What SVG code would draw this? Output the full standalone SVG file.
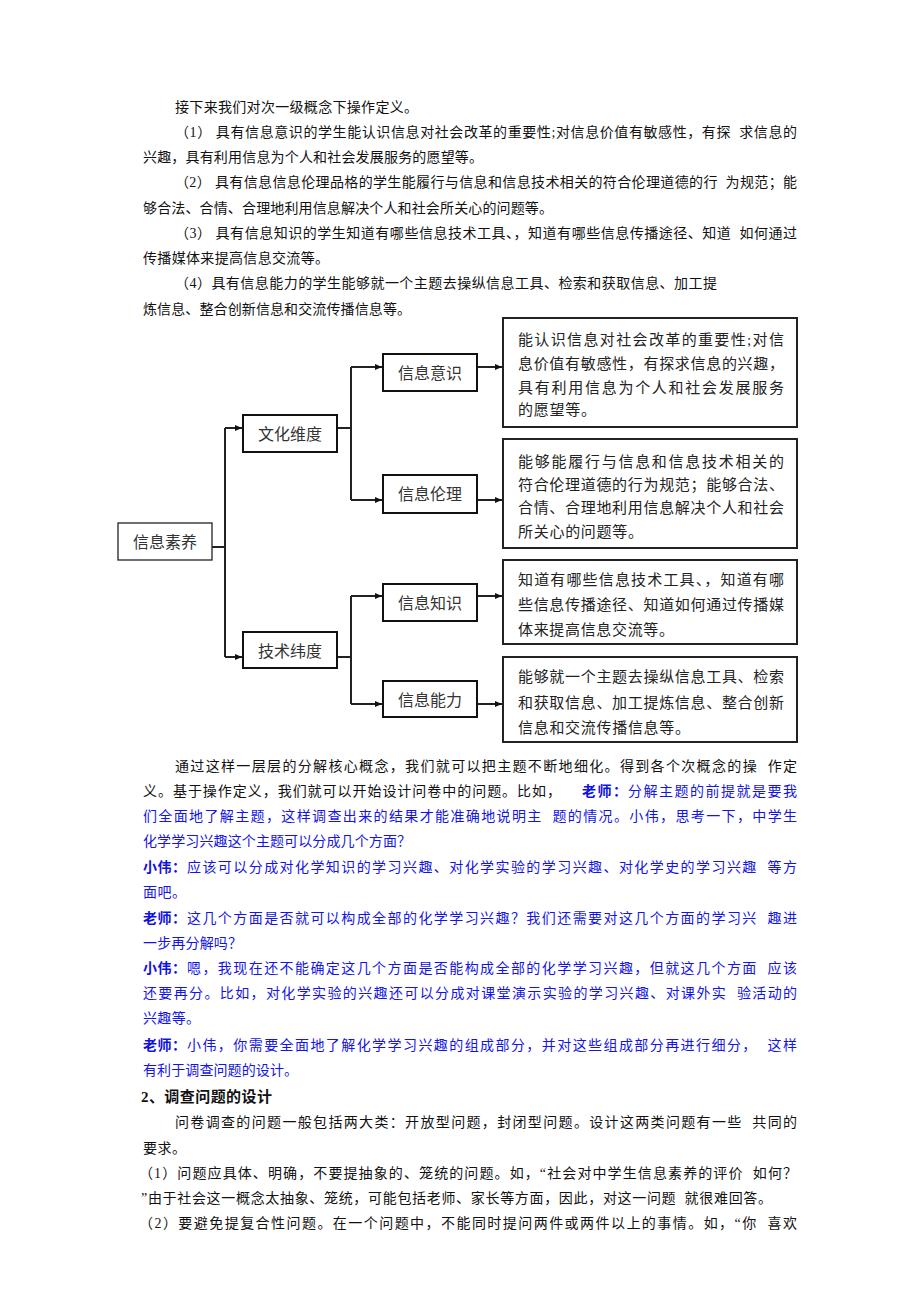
<svg xmlns="http://www.w3.org/2000/svg" width="920" height="1302" viewBox="0 0 920 1302">
<style>
text{font-family:"Liberation Serif","Noto Sans CJK SC",serif;dominant-baseline:central;white-space:pre;}
.t{font-size:14px;fill:#111;}
.bl{font-size:14px;fill:#1414e6;}
.bb{font-size:14px;fill:#1010e0;font-weight:bold;}
.h{font-size:15px;fill:#111;font-weight:bold;}
.box{fill:#fff;stroke:#111;stroke-width:2;}
.box1{fill:#fff;stroke:#222;stroke-width:1.3;}
.dbox{fill:#fff;stroke:#222;stroke-width:2;}
.lbl{font-size:16px;fill:#333;text-anchor:middle;}
.d{font-size:15px;fill:#222;}
.conn{fill:none;stroke:#222;stroke-width:2;}
</style>
<defs>
<marker id="ah" markerWidth="8" markerHeight="8" refX="7" refY="4" orient="auto" markerUnits="userSpaceOnUse">
<path d="M0,1 L7,4 L0,7 Z" fill="#111"/>
</marker>
</defs>
<rect width="920" height="1302" fill="#fff"/>

<g id="para1">
<text class="t" x="175" y="107" textLength="243" lengthAdjust="spacing">接下来我们对次一级概念下操作定义。</text>
<text class="t" x="175" y="132" textLength="622" lengthAdjust="spacing">（1） 具有信息意识的学生能认识信息对社会改革的重要性;对信息价值有敏感性，有探  求信息的</text>
<text class="t" x="143" y="157" textLength="340" lengthAdjust="spacing">兴趣，具有利用信息为个人和社会发展服务的愿望等。</text>
<text class="t" x="175" y="182" textLength="622" lengthAdjust="spacing">（2） 具有信息信息伦理品格的学生能履行与信息和信息技术相关的符合伦理道德的行  为规范；能</text>
<text class="t" x="143" y="208" textLength="410" lengthAdjust="spacing">够合法、合情、合理地利用信息解决个人和社会所关心的问题等。</text>
<text class="t" x="175" y="233" textLength="622" lengthAdjust="spacing">（3） 具有信息知识的学生知道有哪些信息技术工具、，知道有哪些信息传播途径、知道  如何通过</text>
<text class="t" x="143" y="258" textLength="186" lengthAdjust="spacing">传播媒体来提高信息交流等。</text>
<text class="t" x="175" y="283" textLength="542" lengthAdjust="spacing">（4）具有信息能力的学生能够就一个主题去操纵信息工具、检索和获取信息、加工提</text>
<text class="t" x="143" y="309" textLength="268" lengthAdjust="spacing">炼信息、整合创新信息和交流传播信息等。</text>
</g>

<g id="connectors">
<path class="conn" d="M212,547 H225"/>
<path class="conn" d="M225,428 V657"/>
<path class="conn" d="M225,428 H242" marker-end="url(#ah)"/>
<path class="conn" d="M225,657 H242" marker-end="url(#ah)"/>
<path class="conn" d="M337,428 H351 M351,367 V500 M337,657 H351 M351,596 V704"/>
<path class="conn" d="M351,367 H382" marker-end="url(#ah)"/>
<path class="conn" d="M351,500 H382" marker-end="url(#ah)"/>
<path class="conn" d="M351,596 H382" marker-end="url(#ah)"/>
<path class="conn" d="M351,704 H382" marker-end="url(#ah)"/>
<path class="conn" d="M477,367 H502" marker-end="url(#ah)"/>
<path class="conn" d="M477,500 H502" marker-end="url(#ah)"/>
<path class="conn" d="M477,596 H502" marker-end="url(#ah)"/>
<path class="conn" d="M477,704 H502" marker-end="url(#ah)"/>
</g>

<g id="n-root">
<rect class="box1" x="118" y="523" width="94" height="37"/>
<text class="lbl" x="165" y="542">信息素养</text>
</g>
<g id="n-culture">
<rect class="box" x="243" y="415" width="94" height="37"/>
<text class="lbl" x="290" y="434">文化维度</text>
</g>
<g id="n-tech">
<rect class="box" x="243" y="632" width="94" height="36"/>
<text class="lbl" x="290" y="651">技术纬度</text>
</g>
<g id="n-awareness">
<rect class="box" x="383" y="354" width="94" height="37"/>
<text class="lbl" x="430" y="373">信息意识</text>
</g>
<g id="n-ethics">
<rect class="box" x="383" y="475" width="94" height="38"/>
<text class="lbl" x="430" y="494">信息伦理</text>
</g>
<g id="n-knowledge">
<rect class="box" x="383" y="584" width="94" height="37"/>
<text class="lbl" x="430" y="603">信息知识</text>
</g>
<g id="n-ability">
<rect class="box" x="383" y="681" width="94" height="36"/>
<text class="lbl" x="430" y="700">信息能力</text>
</g>

<g id="d-awareness">
<rect class="dbox" x="503" y="318" width="294" height="109"/>
<text class="d" x="518" y="340" textLength="266" lengthAdjust="spacing">能认识信息对社会改革的重要性;对信</text>
<text class="d" x="518" y="364" textLength="266" lengthAdjust="spacing">息价值有敏感性，有探求信息的兴趣，</text>
<text class="d" x="518" y="388" textLength="266" lengthAdjust="spacing">具有利用信息为个人和社会发展服务</text>
<text class="d" x="518" y="410" textLength="78" lengthAdjust="spacing">的愿望等。</text>
</g>
<g id="d-ethics">
<rect class="dbox" x="503" y="439" width="294" height="109"/>
<text class="d" x="518" y="462" textLength="266" lengthAdjust="spacing">能够能履行与信息和信息技术相关的</text>
<text class="d" x="518" y="485" textLength="266" lengthAdjust="spacing">符合伦理道德的行为规范；能够合法、</text>
<text class="d" x="518" y="508" textLength="266" lengthAdjust="spacing">合情、合理地利用信息解决个人和社会</text>
<text class="d" x="518" y="532" textLength="125" lengthAdjust="spacing">所关心的问题等。</text>
</g>
<g id="d-knowledge">
<rect class="dbox" x="503" y="560" width="294" height="84"/>
<text class="d" x="518" y="580" textLength="266" lengthAdjust="spacing">知道有哪些信息技术工具、，知道有哪</text>
<text class="d" x="518" y="605" textLength="266" lengthAdjust="spacing">些信息传播途径、知道如何通过传播媒</text>
<text class="d" x="518" y="630" textLength="156" lengthAdjust="spacing">体来提高信息交流等。</text>
</g>
<g id="d-ability">
<rect class="dbox" x="503" y="657" width="294" height="85"/>
<text class="d" x="518" y="677" textLength="266" lengthAdjust="spacing">能够就一个主题去操纵信息工具、检索</text>
<text class="d" x="518" y="703" textLength="266" lengthAdjust="spacing">和获取信息、加工提炼信息、整合创新</text>
<text class="d" x="518" y="728" textLength="172" lengthAdjust="spacing">信息和交流传播信息等。</text>
</g>

<g id="para2">
<text class="t" x="175" y="766" textLength="622" lengthAdjust="spacing">通过这样一层层的分解核心概念，我们就可以把主题不断地细化。得到各个次概念的操  作定</text>
<text class="t" x="143" y="791" textLength="418" lengthAdjust="spacing">义。基于操作定义，我们就可以开始设计问卷中的问题。比如，</text>
<text class="bb" x="582" y="791" textLength="45" lengthAdjust="spacing">老师：</text>
<text class="bl" x="628" y="791" textLength="169" lengthAdjust="spacing">分解主题的前提就是要我</text>
<text class="bl" x="143" y="816" textLength="654" lengthAdjust="spacing">们全面地了解主题，这样调查出来的结果才能准确地说明主  题的情况。小伟，思考一下，中学生</text>
<text class="bl" x="143" y="841" textLength="268" lengthAdjust="spacing">化学学习兴趣这个主题可以分成几个方面？</text>
<text class="bb" x="143" y="867" textLength="43" lengthAdjust="spacing">小伟：</text>
<text class="bl" x="187" y="867" textLength="610" lengthAdjust="spacing">应该可以分成对化学知识的学习兴趣、对化学实验的学习兴趣、对化学史的学习兴趣  等方</text>
<text class="bl" x="143" y="892" textLength="43" lengthAdjust="spacing">面吧。</text>
<text class="bb" x="143" y="918" textLength="43" lengthAdjust="spacing">老师：</text>
<text class="bl" x="187" y="918" textLength="610" lengthAdjust="spacing">这几个方面是否就可以构成全部的化学学习兴趣？我们还需要对这几个方面的学习兴  趣进</text>
<text class="bl" x="143" y="943" textLength="99" lengthAdjust="spacing">一步再分解吗？</text>
<text class="bb" x="143" y="968" textLength="43" lengthAdjust="spacing">小伟：</text>
<text class="bl" x="187" y="968" textLength="610" lengthAdjust="spacing">嗯，我现在还不能确定这几个方面是否能构成全部的化学学习兴趣，但就这几个方面  应该</text>
<text class="bl" x="143" y="993" textLength="654" lengthAdjust="spacing">还要再分。比如，对化学实验的兴趣还可以分成对课堂演示实验的学习兴趣、对课外实  验活动的</text>
<text class="bl" x="143" y="1018" textLength="57" lengthAdjust="spacing">兴趣等。</text>
<text class="bb" x="143" y="1045" textLength="43" lengthAdjust="spacing">老师：</text>
<text class="bl" x="187" y="1045" textLength="610" lengthAdjust="spacing">小伟，你需要全面地了解化学学习兴趣的组成部分，并对这些组成部分再进行细分，  这样</text>
<text class="bl" x="143" y="1070" textLength="155" lengthAdjust="spacing">有利于调查问题的设计。</text>
</g>

<g id="section2">
<text class="h" x="141" y="1097" textLength="131" lengthAdjust="spacing">2、调查问题的设计</text>
<text class="t" x="175" y="1122" textLength="622" lengthAdjust="spacing">问卷调查的问题一般包括两大类：开放型问题，封闭型问题。设计这两类问题有一些  共同的</text>
<text class="t" x="143" y="1148" textLength="43" lengthAdjust="spacing">要求。</text>
<text class="t" x="139" y="1173" textLength="658" lengthAdjust="spacing">（1）问题应具体、明确，不要提抽象的、笼统的问题。如，“社会对中学生信息素养的评价  如何？</text>
<text class="t" x="141" y="1198" textLength="631" lengthAdjust="spacing">”由于社会这一概念太抽象、笼统，可能包括老师、家长等方面，因此，对这一问题  就很难回答。</text>
<text class="t" x="139" y="1223" textLength="658" lengthAdjust="spacing">（2）要避免提复合性问题。在一个问题中，不能同时提问两件或两件以上的事情。如，“你  喜欢</text>
</g>
</svg>
